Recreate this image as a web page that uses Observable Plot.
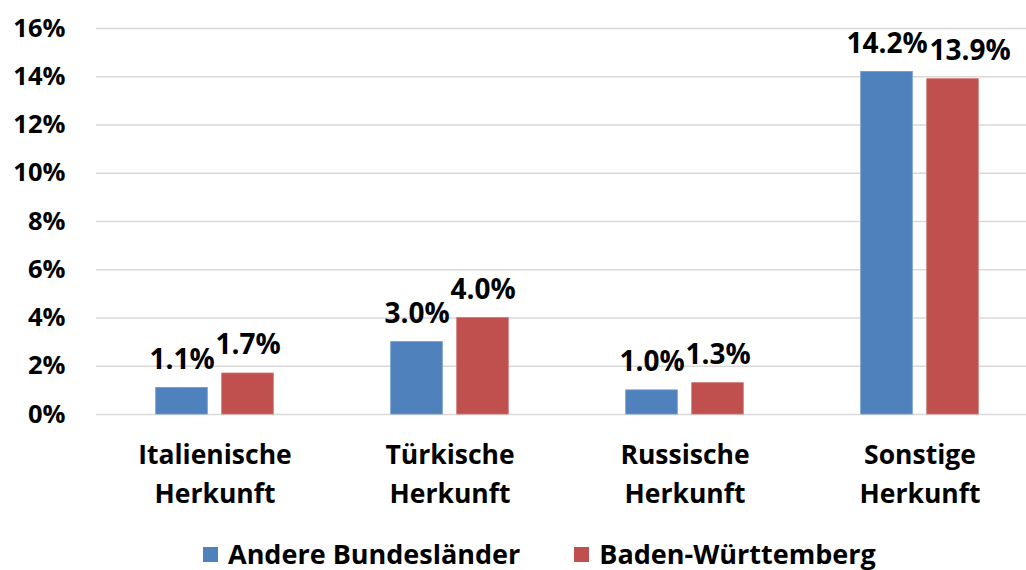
<!DOCTYPE html>
<html>
<head>
<meta charset="utf-8">
<script src="https://cdn.jsdelivr.net/npm/d3@7"></script>
<script src="https://cdn.jsdelivr.net/npm/@observablehq/plot@0.6"></script>
<style>
  html, body { margin: 0; padding: 0; background: #fff; overflow: hidden; }
  body { width: 1026px; height: 570px; font-family: "Open Sans", sans-serif; }
  #legend { display: flex; align-items: center; padding-left: 203px; height: 40px; margin-top: 9px;
            font-family: "Open Sans", sans-serif; font-weight: bold; font-size: 27px; line-height: 40px; color: #000; }
  .sw { width: 15px; height: 15px; display: inline-block; margin-right: 10px; }
  .item { display: flex; align-items: center; margin-right: 54px; }
</style>
</head>
<body>
<div id="chart"></div>
<div id="legend"></div>
<script>
const categories = ["Italienische Herkunft", "Türkische Herkunft", "Russische Herkunft", "Sonstige Herkunft"];
const seriesNames = ["Andere Bundesländer", "Baden-Württemberg"];
const andere = [1.1, 3.0, 1.0, 14.2];
const badenW = [1.7, 4.0, 1.3, 13.9];
const yTicks = [0, 2, 4, 6, 8, 10, 12, 14, 16];
const colors = ["#4F81BD", "#C0504D"];

const dataA = categories.map((c, i) => ({cat: c, v: andere[i]}));
const dataB = categories.map((c, i) => ({cat: c, v: badenW[i]}));
const fmt = d => d.v.toFixed(1) + "%";
const font = "'Open Sans', sans-serif";
const labelOpts = {x: "cat", y: "v", text: fmt, dy: -19, lineAnchor: "bottom", fontSize: 28, fontWeight: "bold", fill: "#000"};

const plot = Plot.plot({
  width: 1026,
  height: 525,
  marginLeft: 96,
  marginRight: -12,
  marginTop: 28,
  marginBottom: 111,
  style: {fontFamily: font, fontWeight: "bold", color: "#000", background: "#fff"},
  x: {domain: categories, padding: 0, label: null},
  y: {domain: [0, 16], label: null},
  marks: [
    Plot.ruleY(yTicks, {stroke: "#d9d9d9", strokeWidth: 1.3}),
    Plot.barY(dataA, {x: "cat", y: "v", fill: colors[0], insetLeft: 58.7, insetRight: 124.7, stroke: "#6f99cc", strokeWidth: 0.8}),
    Plot.barY(dataB, {x: "cat", y: "v", fill: colors[1], insetLeft: 124.7, insetRight: 58.7, stroke: "#cf7674", strokeWidth: 0.8}),
    Plot.text(dataA, {...labelOpts, dx: -33}),
    Plot.text(dataB.slice(0, 3), {...labelOpts, dx: 33}),
    Plot.text(dataB.slice(3), {...labelOpts, dx: 50}),
    Plot.axisY(yTicks, {tickSize: 0, tickPadding: 31, tickFormat: d => d + "%", fontSize: 25.5, fontWeight: "bold", label: null}),
    Plot.axisX({tickSize: 0, tickPadding: 21, tickFormat: d => d.replace(" ", "\n"), fontSize: 26.5, fontWeight: "bold", lineHeight: 1.5, label: null})
  ]
});
document.getElementById("chart").appendChild(plot);

const legend = document.getElementById("legend");
seriesNames.forEach((n, i) => {
  const item = document.createElement("div");
  item.className = "item";
  const sw = document.createElement("span");
  sw.className = "sw";
  sw.style.background = colors[i];
  item.appendChild(sw);
  item.appendChild(document.createTextNode(n));
  legend.appendChild(item);
});
</script>
</body>
</html>
